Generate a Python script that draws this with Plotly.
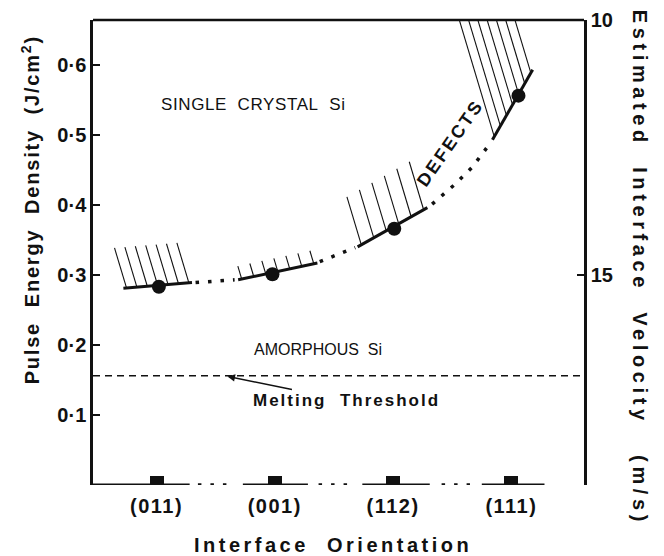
import plotly.graph_objects as go

# ---------------- data ----------------
orientations = ["(011)", "(001)", "(112)", "(111)"]
orient_pos = [0, 1, 2, 3]

# measured threshold points (pulse energy density, J/cm^2)
point_x = [0.02, 0.98, 2.01, 3.06]
threshold_energy = [0.283, 0.301, 0.366, 0.556]

# solid tangent segments through each point
seg_x = [[-0.28, 0.30], [0.69, 1.36], [1.70, 2.29], [2.84, 3.18]]
seg_y = [[0.281, 0.289], [0.293, 0.317], [0.340, 0.396], [0.493, 0.593]]

# dotted connecting curve between segments
gap_x = [[0.33, 0.66], [1.38, 1.68], [2.33, 2.52, 2.67, 2.79]]
gap_y = [[0.289, 0.293], [0.319, 0.339], [0.401, 0.429, 0.454, 0.481]]

# melting threshold
melting_threshold = 0.156

# orientation axis: solid pieces and dotted pieces along the baseline
base_solid = [[-0.54, 0.28], [0.73, 1.28], [1.74, 2.31], [2.75, 3.28]]
base_dots = [[0.35, 0.64], [1.37, 1.64], [2.41, 2.65]]

# hatch: number of strokes and stroke length (px) for each segment
hatch_n = [7, 7, 6, 7]
hatch_len = [40, 13, 48, 140]

y_ticks = [0.1, 0.2, 0.3, 0.4, 0.5, 0.6]
y_ticktext = ["0·1", "0·2", "0·3", "0·4", "0·5", "0·6"]
y2_ticks = [10, 15]
y2_ticktext = ["10", "15"]

# ---------------- geometry ----------------
# (page has an 8px body margin, so the figure is 8px smaller)
W, H = 656, 548
ML, MR, MT, MB = 85, 80, 12, 71
XR = [-0.537, 3.614]
YR = [0.0, 0.664]
Y2R = [19.12, 10.0]
pxx = (W - ML - MR) / (XR[1] - XR[0])
pxy = (H - MT - MB) / (YR[1] - YR[0])

INK = "#111111"
FONT = "Liberation Sans, Arial, sans-serif"


def spaced(s, ls):
    return '<span style="letter-spacing:%spx">%s</span>' % (ls, s)


fig = go.Figure()

# hatching strokes
hx, hy = [], []
for (x0, x1), (y0, y1), n, L in zip(seg_x, seg_y, hatch_n, hatch_len):
    for i in range(n):
        t = (i + 0.3) / (n - 0.4)
        bx = x0 + (x1 - x0) * t
        by = y0 + (y1 - y0) * t
        hx += [bx, bx - 0.30 * L / pxx, None]
        hy += [by, by + L / pxy, None]
fig.add_trace(go.Scatter(x=hx, y=hy, mode="lines",
                         line=dict(color=INK, width=1.1),
                         hoverinfo="skip", showlegend=False))

# solid segments
for xs, ys in zip(seg_x, seg_y):
    fig.add_trace(go.Scatter(x=xs, y=ys, mode="lines",
                             line=dict(color=INK, width=3),
                             hoverinfo="skip", showlegend=False))
# dotted connections
for xs, ys in zip(gap_x, gap_y):
    fig.add_trace(go.Scatter(x=xs, y=ys, mode="lines",
                             line=dict(color=INK, width=3.5, dash="3.5px,9px"),
                             hoverinfo="skip", showlegend=False))
# points
fig.add_trace(go.Scatter(x=point_x, y=threshold_energy, mode="markers",
                         marker=dict(color=INK, size=14),
                         showlegend=False))

# melting threshold dashed line
fig.add_trace(go.Scatter(x=XR, y=[melting_threshold, melting_threshold],
                         mode="lines",
                         line=dict(color=INK, width=1.5, dash="7px,5px"),
                         hoverinfo="skip", showlegend=False))

# baseline pieces
for xs in base_solid:
    fig.add_trace(go.Scatter(x=xs, y=[YR[0], YR[0]], mode="lines",
                             line=dict(color=INK, width=3),
                             cliponaxis=False, hoverinfo="skip",
                             showlegend=False))
for xs in base_dots:
    fig.add_trace(go.Scatter(x=xs, y=[YR[0], YR[0]], mode="lines",
                             line=dict(color=INK, width=3.5, dash="3.5px,9px"),
                             cliponaxis=False, hoverinfo="skip",
                             showlegend=False))
# orientation markers on the baseline
fig.add_trace(go.Bar(x=orient_pos, y=[9 / pxy] * 4, width=14 / pxx,
                     marker=dict(color=INK, line=dict(width=0)),
                     hoverinfo="skip", showlegend=False))

# invisible trace for the right axis
fig.add_trace(go.Scatter(x=[XR[0]], y=[Y2R[0]], yaxis="y2", mode="markers",
                         marker=dict(opacity=0), hoverinfo="skip",
                         showlegend=False))

tickfont = dict(size=20, family=FONT, weight="bold", color=INK)
fig.update_layout(
    width=W, height=H,
    margin=dict(l=ML, r=MR, t=MT, b=MB, autoexpand=False),
    paper_bgcolor="white", plot_bgcolor="white",
    font=dict(family=FONT, color=INK),
    xaxis=dict(range=XR, showgrid=False, zeroline=False, showline=False,
               automargin=False,
               tickvals=orient_pos,
               ticktext=[spaced(t, 1.5) for t in orientations],
               ticks="outside", ticklen=3, tickcolor="rgba(0,0,0,0)",
               tickfont=tickfont),
    yaxis=dict(range=YR, showgrid=False, zeroline=False, showline=True,
               automargin=False,
               linecolor=INK, linewidth=2.5, ticks="inside", ticklen=7,
               tickwidth=2, tickcolor=INK,
               tickvals=y_ticks, ticktext=y_ticktext, tickfont=tickfont),
    yaxis2=dict(range=Y2R, overlaying="y", side="right", showgrid=False,
                automargin=False,
                zeroline=False, showline=True, linecolor=INK, linewidth=2.5,
                ticks="inside", ticklen=7, tickwidth=2, tickcolor=INK,
                tickvals=y2_ticks, ticktext=y2_ticktext, tickfont=tickfont),
    bargap=0,
    shapes=[dict(type="line", xref="paper", yref="paper", x0=0, x1=1,
                 y0=1, y1=1, line=dict(color=INK, width=2.5))],
)

C = dict(xanchor="center", yanchor="middle")
ann = []
ann.append(dict(text=spaced("SINGLE&nbsp; CRYSTAL&nbsp; Si", 0.6), x=0.816, y=0.544,
                xref="x", yref="y", showarrow=False,
                font=dict(size=17, family=FONT), **C))
ann.append(dict(text="AMORPHOUS&nbsp; Si", x=1.365, y=0.193,
                xref="x", yref="y", showarrow=False,
                font=dict(size=16, family=FONT), **C))
ann.append(dict(text="<b>" + spaced("DEFECTS", 2.5) + "</b>", x=2.48, y=0.489,
                xref="x", yref="y",
                showarrow=False, textangle=-55,
                font=dict(size=18, family=FONT), **C))
ann.append(dict(text="<b>" + spaced("Melting&nbsp;&nbsp;Threshold", 2) + "</b>",
                x=0.60, y=0.155,
                xref="x", yref="y", showarrow=True, ax=119, ay=24,
                arrowhead=2, arrowsize=1, arrowwidth=1.5, arrowcolor=INK,
                font=dict(size=17, family=FONT)))
ann.append(dict(text="<b>" + spaced("Pulse&nbsp;&nbsp;Energy&nbsp;&nbsp;Density&nbsp;&nbsp;(J/cm<sup>2</sup>)", 1.8) + "</b>",
                x=-0.128, y=0.591, xref="paper", yref="paper",
                showarrow=False, textangle=-90,
                font=dict(size=20, family=FONT), **C))
ann.append(dict(text="<b>" + spaced("Estimated&nbsp;&nbsp;Interface&nbsp;&nbsp;Velocity&nbsp;&nbsp;&nbsp;(m/s)", 4.6) + "</b>",
                x=1.114, y=0.467, xref="paper", yref="paper",
                showarrow=False, textangle=90,
                font=dict(size=20, family=FONT), **C))
ann.append(dict(text="<b>" + spaced("Interface&nbsp;&nbsp;Orientation", 3.5) + "</b>",
                x=0.489, y=-0.129, xref="paper", yref="paper",
                showarrow=False, font=dict(size=20, family=FONT), **C))
fig.update_layout(annotations=ann)

fig.write_html("out.html")
